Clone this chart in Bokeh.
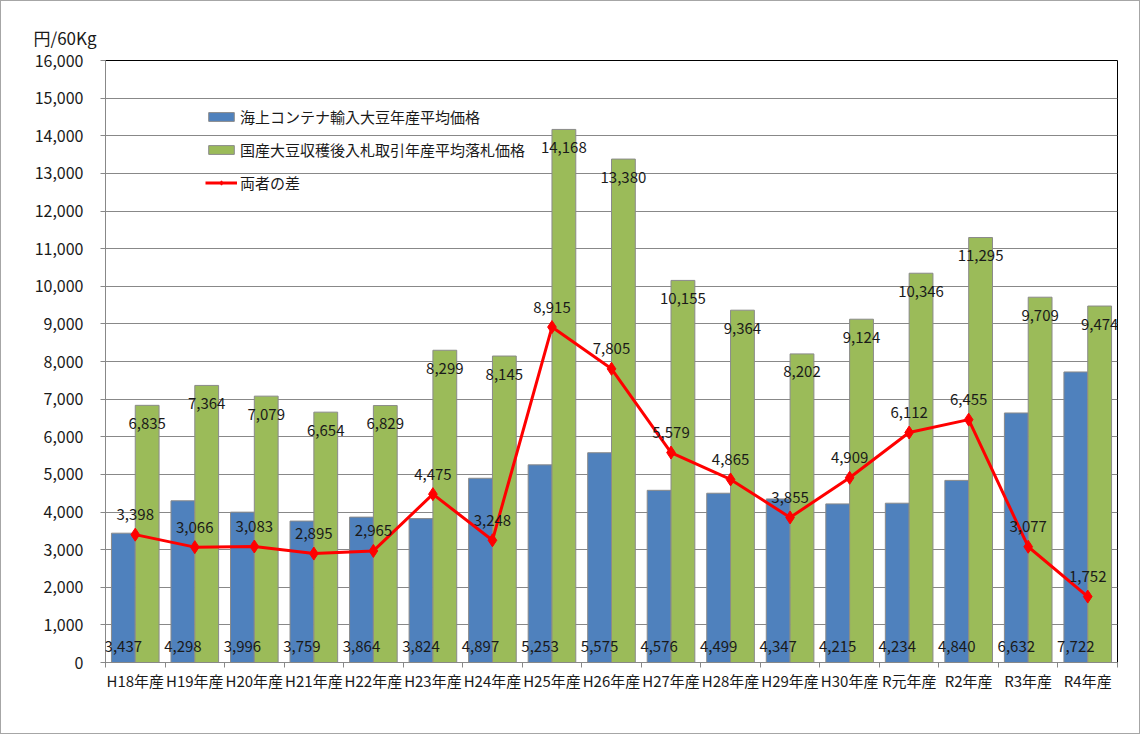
import numpy as np
from bokeh.plotting import figure
from bokeh.models import (ColumnDataSource, Range1d, FixedTicker, SingleIntervalTicker,
                          NumeralTickFormatter, LabelSet, Legend, LegendItem)
from bokeh.core.properties import value
from bokeh.transform import dodge
from bokeh.embed import file_html
from bokeh.resources import INLINE

categories = ["H18年産", "H19年産", "H20年産", "H21年産", "H22年産", "H23年産", "H24年産",
              "H25年産", "H26年産", "H27年産", "H28年産", "H29年産", "H30年産",
              "R元年産", "R2年産", "R3年産", "R4年産"]
import_price = [3437, 4298, 3996, 3759, 3864, 3824, 4897, 5253, 5575, 4576, 4499, 4347,
                4215, 4234, 4840, 6632, 7722]
domestic_price = [6835, 7364, 7079, 6654, 6829, 8299, 8145, 14168, 13380, 10155, 9364,
                  8202, 9124, 10346, 11295, 9709, 9474]
difference = [3398, 3066, 3083, 2895, 2965, 4475, 3248, 8915, 7805, 5579, 4865, 3855,
              4909, 6112, 6455, 3077, 1752]

series_names = ["海上コンテナ輸入大豆年産平均価格", "国産大豆収穫後入札取引年産平均落札価格", "両者の差"]
y_title = "円/60Kg"

n = len(categories)
xs = list(range(1, n + 1))
fmt = lambda v: f"{v:,}"
src = ColumnDataSource(dict(
    x=xs, cat=categories, imp=import_price, dom=domestic_price, diff=difference,
    imp_t=[fmt(v) for v in import_price], dom_t=[fmt(v) for v in domestic_price],
    diff_t=[fmt(v) for v in difference], zero=[0] * n,
))

FONT = "Noto Sans CJK JP"
TXT = "#1a1a1a"
GRAY = "#888888"

p = figure(width=1140, height=734, x_range=Range1d(0.5, n + 0.5), y_range=Range1d(0, 16000),
           output_backend="svg", toolbar_location=None, title=y_title,
           min_border_left=104, min_border_right=24, min_border_top=59, min_border_bottom=73)
p.styles = {"border": "1px solid #a6a6a6"}
p.background_fill_color = "white"
p.border_fill_color = "white"
p.outline_line_color = "black"
p.outline_line_width = 1

p.title.text_font = FONT
p.title.text_font_size = "17px"
p.title.text_font_style = "normal"
p.title.text_color = TXT
p.title.align = "left"
p.title.offset = -72
p.title.standoff = 22

b1 = p.vbar(x=dodge("x", -0.2, range=p.x_range), top="imp", width=0.4, source=src,
            fill_color="#4F81BD", line_color="#8a8a8a", line_width=1)
b2 = p.vbar(x=dodge("x", 0.2, range=p.x_range), top="dom", width=0.4, source=src,
            fill_color="#9BBB59", line_color="#8a8a8a", line_width=1)
ln = p.line(x="x", y="diff", source=src, line_color="#FF0000", line_width=3)
mk = p.scatter(x="x", y="diff", source=src, marker="diamond", size=13,
               fill_color="#FF0000", line_color="#FF0000")

common = dict(text_font=value(FONT), text_font_size="15px", text_color=TXT,
              text_align="center", text_baseline="middle", source=src)
p.add_layout(LabelSet(x=dodge("x", -0.2, range=p.x_range), y="zero", text="imp_t",
                      y_offset=16, **common))
p.add_layout(LabelSet(x=dodge("x", 0.2, range=p.x_range), y="dom", text="dom_t",
                      y_offset=-18, **common))
p.add_layout(LabelSet(x="x", y="diff", text="diff_t", y_offset=20, **common))

# axes
p.yaxis.ticker = SingleIntervalTicker(interval=1000)
p.yaxis.formatter = NumeralTickFormatter(format="0,0")
p.yaxis.axis_line_color = GRAY
p.yaxis.major_tick_line_color = GRAY
p.yaxis.major_tick_out = 5
p.yaxis.major_tick_in = 0
p.yaxis.minor_tick_line_color = None
p.yaxis.major_label_standoff = 17
p.yaxis.major_label_text_font = FONT
p.yaxis.major_label_text_font_size = "16px"
p.yaxis.major_label_text_color = TXT

p.xaxis.ticker = FixedTicker(ticks=xs, minor_ticks=[i + 0.5 for i in range(0, n + 1)])
p.xaxis.major_label_overrides = {x: c for x, c in zip(xs, categories)}
p.xaxis.axis_line_color = GRAY
p.xaxis.major_tick_line_color = None
p.xaxis.minor_tick_line_color = GRAY
p.xaxis.minor_tick_out = 5
p.xaxis.minor_tick_in = 0
p.xaxis.major_label_standoff = 1
p.xaxis.major_label_text_font = FONT
p.xaxis.major_label_text_font_size = "15px"
p.xaxis.major_label_text_color = TXT

p.xgrid.grid_line_color = None
p.ygrid.ticker = SingleIntervalTicker(interval=1000)
p.ygrid.grid_line_color = GRAY
p.ygrid.grid_line_width = 1

legend = Legend(items=[
    LegendItem(label=series_names[0], renderers=[b1]),
    LegendItem(label=series_names[1], renderers=[b2]),
    LegendItem(label=series_names[2], renderers=[ln, mk]),
], location=(100, 469), orientation="vertical")
legend.padding = 0
legend.margin = 0
legend.spacing = 12
legend.label_height = 20
legend.glyph_height = 11
legend.glyph_width = 32
legend.label_standoff = 3
legend.label_text_font = FONT
legend.label_text_font_size = "15px"
legend.label_text_color = TXT
legend.background_fill_alpha = 0
legend.border_line_alpha = 0
p.add_layout(legend, "center")

open("out.html", "w").write(file_html(p, INLINE))
